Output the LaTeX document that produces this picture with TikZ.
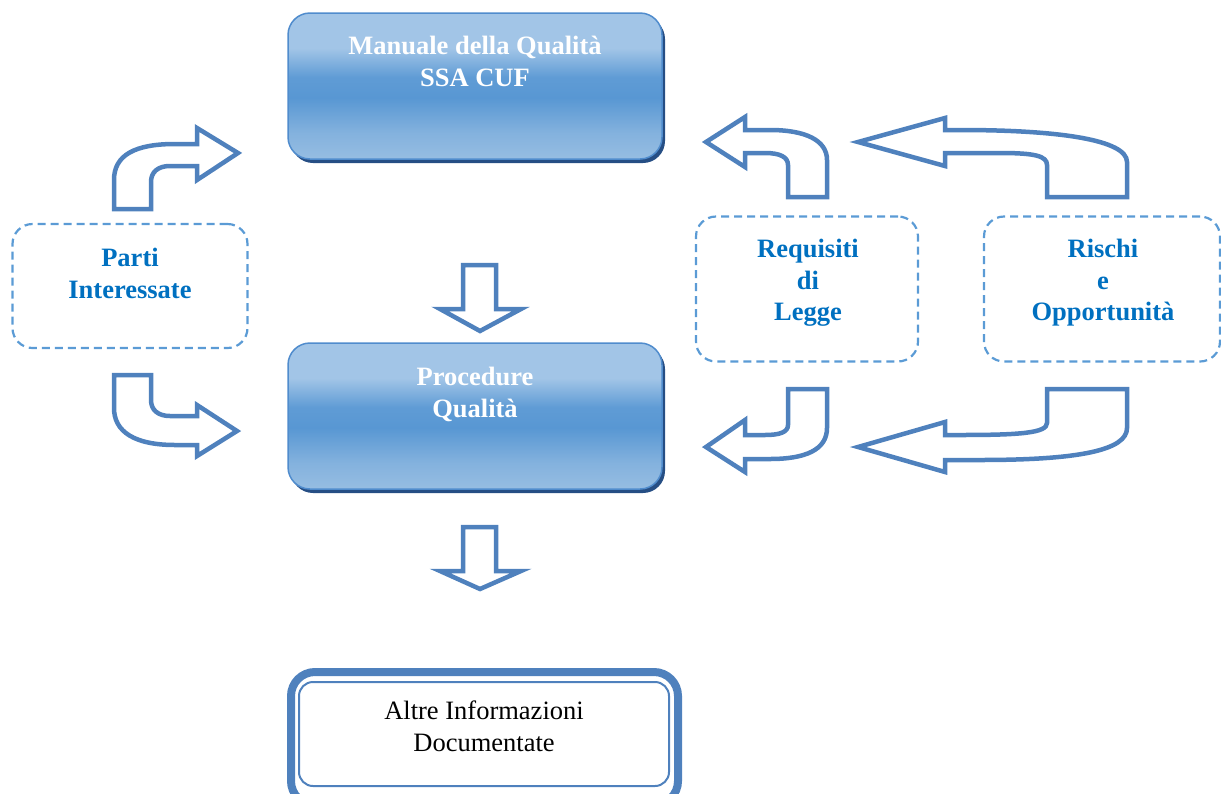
\documentclass[tikz,border=0pt]{standalone}
\usepackage{fontspec}
\setmainfont{Liberation Serif}
\usetikzlibrary{shadows}
\definecolor{arrowblue}{RGB}{79,129,189}
\definecolor{dashblue}{RGB}{91,155,213}
\definecolor{textblue}{RGB}{0,112,192}
\definecolor{boxtop}{RGB}{162,197,231}
\definecolor{boxbottom}{RGB}{150,189,226}
\definecolor{boxmid}{RGB}{88,151,211}
\definecolor{boxedge}{RGB}{80,140,205}
\definecolor{boxshadow}{RGB}{38,78,132}
% vertical gradient of the document boxes (path spans 25bp..75bp)
\pgfdeclareverticalshading{docshade}{100bp}{
  color(0bp)=(boxbottom); color(25bp)=(boxbottom); color(34bp)=(boxbottom!70!boxmid);
  color(46bp)=(boxmid); color(53bp)=(boxmid!90!boxtop); color(63bp)=(boxtop);
  color(75bp)=(boxtop); color(100bp)=(boxtop)}
\begin{document}
\begin{tikzpicture}[x=1pt,y=-1pt,
  mainbox/.style={rectangle,rounded corners=22pt,minimum width=374pt,minimum height=146pt,
    draw=boxedge,line width=1.5pt,shading=docshade,
    drop shadow={shadow xshift=3pt,shadow yshift=-4pt,fill=boxshadow,opacity=1}},
  dashbox/.style={rectangle,rounded corners=20pt,draw=dashblue,line width=2.2pt,
    dash pattern=on 8pt off 5pt},
  whitetext/.style={font=\fontsize{26.5}{31.5}\selectfont\bfseries,text=white,align=center,inner sep=0pt,anchor=north},
  bluetext/.style={font=\fontsize{26.5}{31.5}\selectfont\bfseries,text=textblue,align=center,inner sep=0pt,anchor=north},
  blockarrow/.style={draw=arrowblue,line width=4.5pt,fill=white,line join=miter,miter limit=10}]
\useasboundingbox (0,0) rectangle (1221,793);
\clip (0,0) rectangle (1221,793);

% central documents
\node[mainbox] (man) at (475,86) {};
\node[whitetext] (mant) at (475,36) {Manuale della Qualità\\SSA CUF};
\node[mainbox] (proc) at (475,416) {};
\node[whitetext] (proct) at (475,367) {Procedure\\Qualità};

% dashed inputs
\node[dashbox,minimum width=235pt,minimum height=124pt] (parti) at (130,286) {};
\node[bluetext] (partit) at (130,248) {Parti\\Interessate};
\node[dashbox,minimum width=222pt,minimum height=145pt] (req) at (807,289) {};
\node[bluetext] (reqt) at (808,239) {Requisiti\\di\\Legge};
\node[dashbox,minimum width=236pt,minimum height=145pt] (risk) at (1102,289) {};
\node[bluetext] (riskt) at (1103,239) {Rischi\\e\\Opportunità};

% documented information box
\draw[draw=arrowblue,line width=8pt,rounded corners=24pt] (291,672) rectangle (678,805);
\node[draw=arrowblue,line width=2pt,rounded corners=14pt,minimum width=370pt,minimum height=104pt] (altre) at (484,734) {};
\node[font=\fontsize{26.5}{31.5}\selectfont,align=center,inner sep=0pt,anchor=north] (altret) at (484,701) {Altre Informazioni\\Documentate};

% downward block arrows
\draw[blockarrow] (463,265) -- (463,309) -- (440,309) -- (480,331) -- (521,309) -- (496,309) -- (496,265) -- cycle;
\draw[blockarrow] (463,527) -- (463,571) -- (440,571) -- (480,589) -- (521,571) -- (496,571) -- (496,527) -- cycle;

% bent arrows from the interested parties
\draw[blockarrow] (114,209) -- (114,180) .. controls (114,155) and (135,144) .. (175,144) -- (197,144) -- (197,128) -- (238,153) -- (197,180) -- (197,166) -- (170,166) .. controls (158,166) and (151,172) .. (151,182) -- (151,209) -- cycle;
\draw[blockarrow] (114,375) -- (114,408) .. controls (114,432) and (135,445) .. (175,445) -- (197,445) -- (197,456) -- (237,431) -- (197,405) -- (197,416) -- (170,416) .. controls (158,416) and (151,410) .. (151,400) -- (151,375) -- cycle;

% bent arrows from legal requirements
\draw[blockarrow] (827,197) -- (827,160) .. controls (827,140) and (805,130) .. (770,130) -- (745,130) -- (745,117) -- (706,142) -- (745,167) -- (745,153) -- (765,153) .. controls (780,153) and (788,157) .. (788,165) -- (788,197) -- cycle;
\draw[blockarrow] (788,389) -- (788,425) .. controls (788,432) and (780,435) .. (765,435) -- (745,435) -- (745,420) -- (706,447) -- (745,472) -- (745,459) -- (770,459) .. controls (805,459) and (827,450) .. (827,428) -- (827,389) -- cycle;

% bent arrows from risks and opportunities
\draw[blockarrow] (1127,197) -- (1127,162) .. controls (1127,140) and (1060,130) .. (960,130) -- (945,130) -- (945,118) -- (858,142) -- (945,166) -- (945,153) -- (1000,153) .. controls (1035,153) and (1047,156) .. (1047,165) -- (1047,197) -- cycle;
\draw[blockarrow] (1047,389) -- (1047,423) .. controls (1047,433) and (1020,435) .. (960,435) -- (945,435) -- (945,422) -- (858,447) -- (945,472) -- (945,460) -- (980,460) .. controls (1080,460) and (1127,450) .. (1127,428) -- (1127,389) -- cycle;
\end{tikzpicture}
\end{document}
